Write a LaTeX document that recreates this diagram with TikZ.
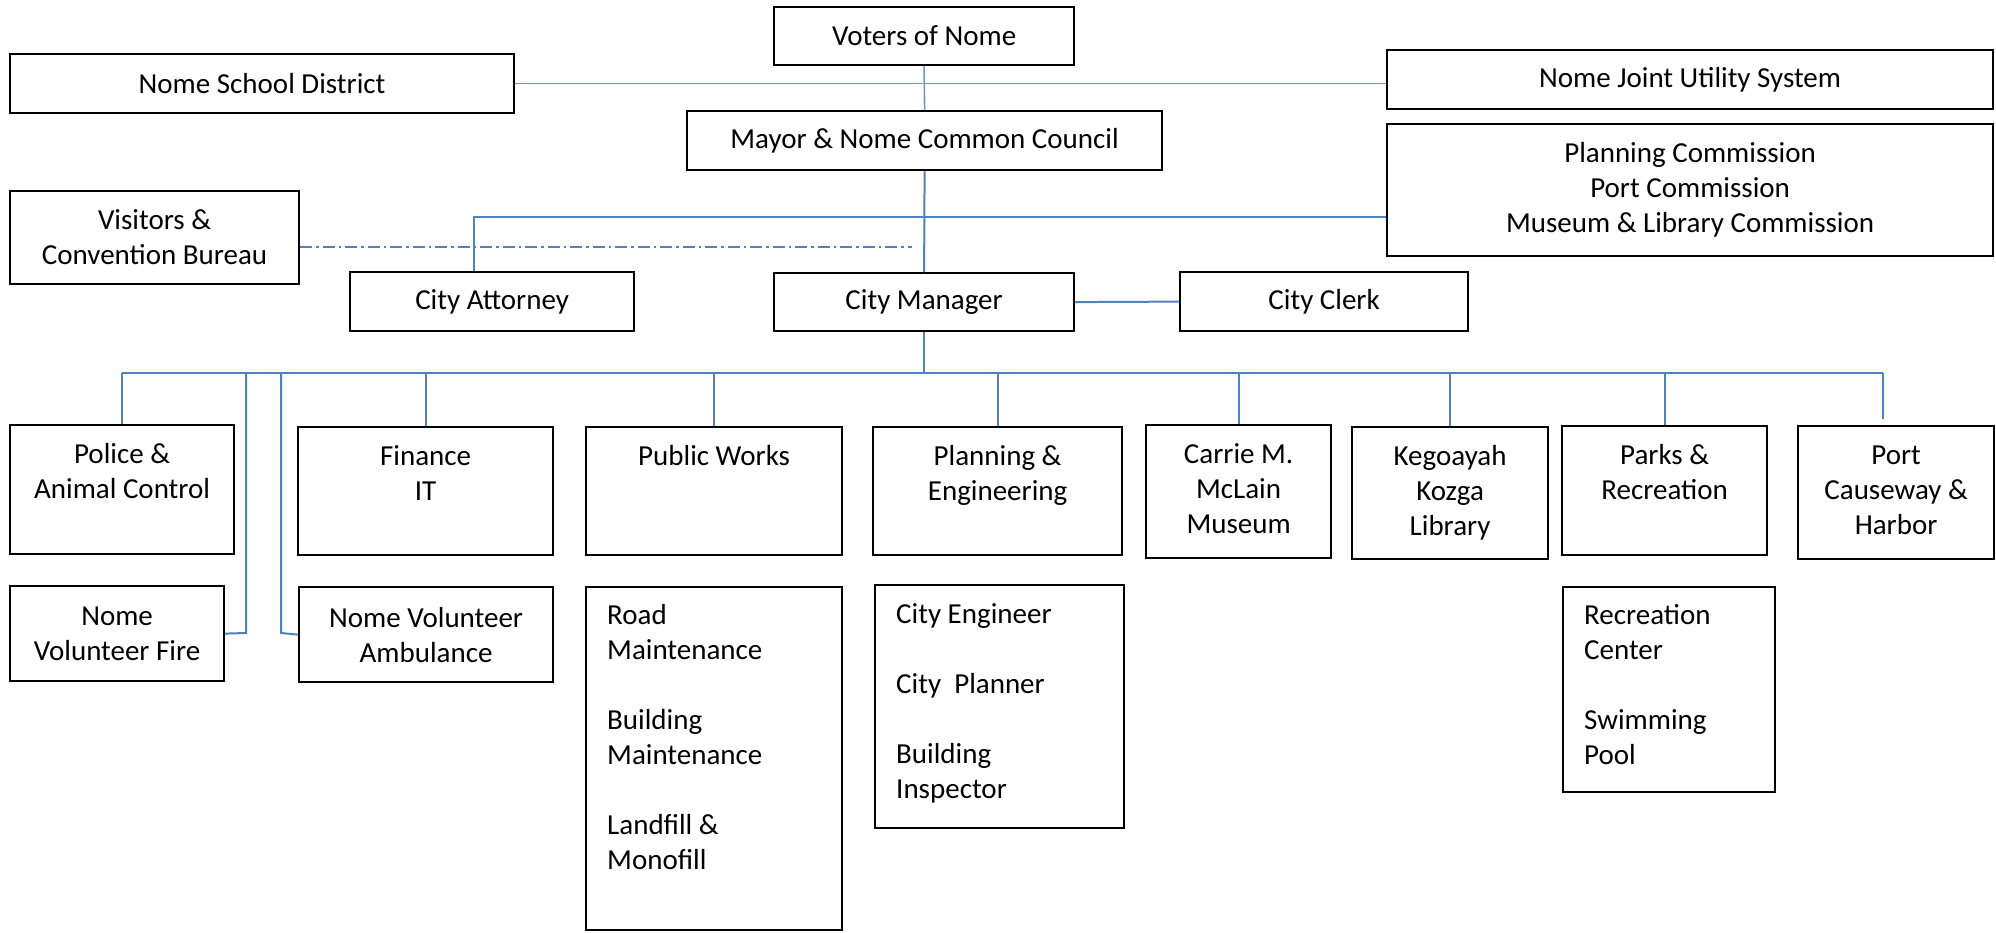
\documentclass[tikz,border=0pt]{standalone}
\usepackage{fontspec}
\setmainfont{Carlito}
\definecolor{lineblue}{HTML}{4F81BD}
\definecolor{lightblue}{HTML}{6F97CB}
\newcommand{\tcb}[1]{\parbox[t]{300pt}{\centering #1}}
\newcommand{\tlb}[1]{\parbox[t]{240pt}{\raggedright #1}}
\begin{document}
\begin{tikzpicture}[x=1pt,y=-1pt,
  font=\fontsize{29}{35}\selectfont,
  box/.style={draw=black, line width=2.2pt, inner sep=0pt, anchor=north west, align=center},
  link/.style={draw=lineblue, line width=2pt},
  thinlink/.style={draw=lightblue, line width=1.6pt},
  dashdot/.style={draw=lineblue, line width=2pt, dash pattern=on 12pt off 4pt on 2.5pt off 4pt},
  ttop/.style={anchor=base, inner sep=0pt},
  tleft/.style={anchor=base west, inner sep=0pt}]
\useasboundingbox (0,0) rectangle (1996,932);

% boxes
\node[box, minimum width=300pt, minimum height=58pt] (voters) at (773,6) {Voters of Nome};
\node[box, minimum width=504pt, minimum height=59pt] (school) at (9,53) {Nome School District};
\node[box, minimum width=606pt, minimum height=59pt] (utility) at (1386,49) {Nome Joint Utility System};
\node[box, minimum width=475pt, minimum height=59pt] (mayor) at (686,110) {Mayor \& Nome Common Council};
\node[box, minimum width=606pt, minimum height=132pt] (comm) at (1386,123) {Planning Commission\\Port Commission\\Museum \& Library Commission};
\node[box, minimum width=289pt, minimum height=93pt] (visitors) at (9,190) {Visitors \&\\Convention Bureau};
\node[box, minimum width=284pt, minimum height=59pt] (attorney) at (349,271) {City Attorney};
\node[box, minimum width=300pt, minimum height=58pt] (manager) at (773,272) {City Manager};
\node[box, minimum width=288pt, minimum height=59pt] (clerk) at (1179,271) {City Clerk};
\node[box, minimum width=224pt, minimum height=129pt] (police) at (9,424) {};
\node[box, minimum width=255pt, minimum height=128pt] (finance) at (297,426) {};
\node[box, minimum width=256pt, minimum height=128pt] (pubworks) at (585,426) {};
\node[box, minimum width=249pt, minimum height=128pt] (planning) at (872,426) {};
\node[box, minimum width=185pt, minimum height=133pt] (museum) at (1145,424) {};
\node[box, minimum width=196pt, minimum height=132pt] (library) at (1351,426) {};
\node[box, minimum width=205pt, minimum height=129pt] (parks) at (1561,425) {};
\node[box, minimum width=196pt, minimum height=133pt] (port) at (1797,425) {};
\node[box, minimum width=214pt, minimum height=95pt] (fire) at (9,585) {Nome\\Volunteer Fire};
\node[box, minimum width=254pt, minimum height=95pt] (ambulance) at (298,586) {Nome Volunteer\\Ambulance};
\node[box, minimum width=256pt, minimum height=343pt] (road) at (585,586) {};
\node[box, minimum width=249pt, minimum height=243pt] (cityeng) at (874,584) {};
\node[box, minimum width=212pt, minimum height=205pt] (recctr) at (1562,586) {};

% texts in top-aligned boxes
\node[ttop] (policeT) at (police.north |- 0,463) {\tcb{Police \&\\Animal Control}};
\node[ttop] (financeT) at (finance.north |- 0,465) {\tcb{Finance\\IT}};
\node[ttop] (pubworksT) at (pubworks.north |- 0,465) {\tcb{Public Works}};
\node[ttop] (planningT) at (planning.north |- 0,465) {\tcb{Planning \&\\Engineering}};
\node[ttop] (museumT) at (museum.north |- 0,463) {\tcb{Carrie M.\\McLain\\Museum}};
\node[ttop] (libraryT) at (library.north |- 0,465) {\tcb{Kegoayah\\Kozga\\Library}};
\node[ttop] (parksT) at (parks.north |- 0,464) {\tcb{Parks \&\\Recreation}};
\node[ttop] (portT) at (port.north |- 0,464) {\tcb{Port\\Causeway \&\\Harbor}};
\node[tleft] (roadT) at (607,624) {\tlb{Road\\Maintenance\\[35pt]Building\\Maintenance\\[35pt]Landfill \&\\Monofill}};
\node[tleft] (cityengT) at (896,623) {\tlb{City Engineer\\[35pt]City\ \ Planner\\[35pt]Building\\Inspector}};
\node[tleft] (recctrT) at (1584,624) {\tlb{Recreation\\Center\\[35pt]Swimming\\Pool}};

% connectors
\draw[thinlink] (school.east) -- (school.east -| utility.west);
\draw[thinlink] (voters.south) -- (mayor.north);
\draw[link] (mayor.south) -- (manager.north);
\coordinate (cj) at (474,217);
\draw[link] (attorney.north -| cj) -- (cj) -- (cj -| comm.west);
\coordinate (vd) at (912,247);
\draw[dashdot] (vd -| visitors.east) -- (vd);
\draw[link] (manager.east) -- (clerk.west);
\coordinate (busL) at (122,373);
\coordinate (busR) at (1883,373);
\draw[link] (busL) -- (busR);
\draw[link] (manager.south) -- (manager.south |- busL);
\draw[link] (busL) -- (busL |- police.north);
\draw[link] (finance.north |- busL) -- (finance.north);
\draw[link] (pubworks.north |- busL) -- (pubworks.north);
\draw[link] (planning.north |- busL) -- (planning.north);
\draw[link] (museum.north |- busL) -- (museum.north);
\draw[link] (library.north |- busL) -- (library.north);
\draw[link] (parks.north |- busL) -- (parks.north);
\coordinate (portD) at (1883,419);
\draw[link] (busR) -- (portD);
\coordinate (fj) at (246,633);
\draw[link] (fj |- busL) -- (fj) -- (fire.east);
\coordinate (aj) at (281,633);
\draw[link] (aj |- busL) -- (aj) -- (ambulance.west);
\end{tikzpicture}
\end{document}
